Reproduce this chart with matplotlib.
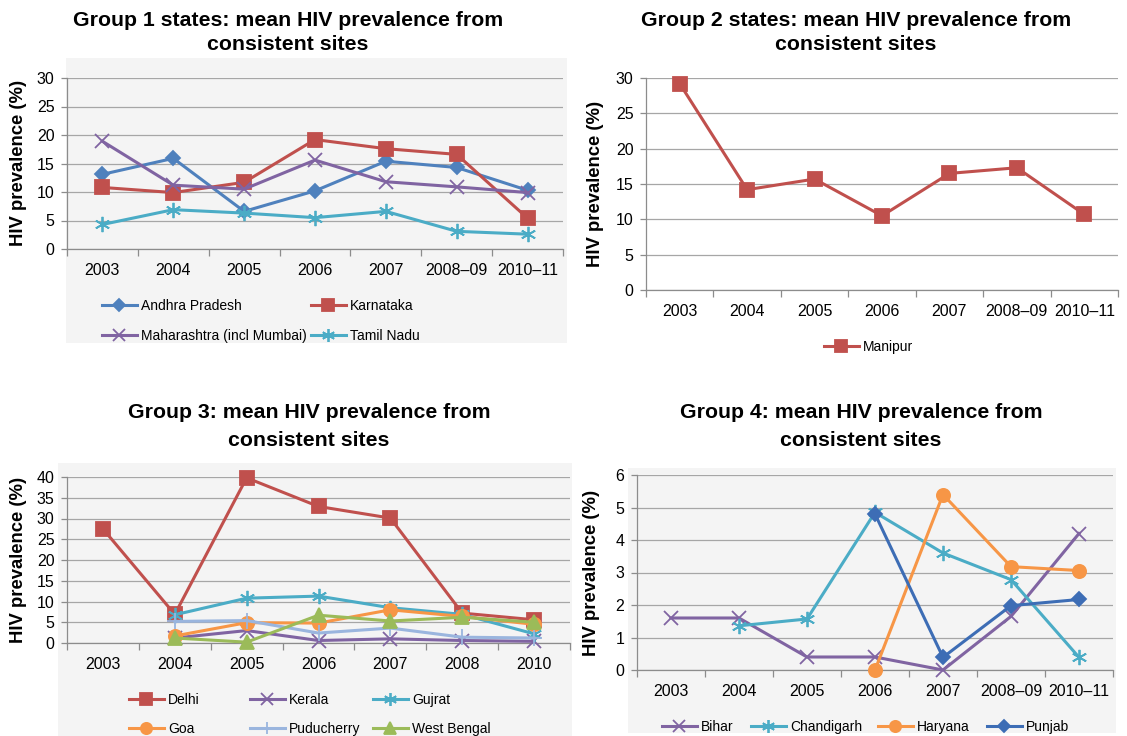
import numpy as np
import matplotlib
matplotlib.use("Agg")
import matplotlib.pyplot as plt
from matplotlib.patches import Rectangle

W, H = 1127, 736
nan = np.nan

years_a = ["2003", "2004", "2005", "2006", "2007", "2008–09", "2010–11"]
years_b = ["2003", "2004", "2005", "2006", "2007", "2008", "2010"]

# Group 1
andhra = [13.1, 15.9, 6.6, 10.2, 15.4, 14.3, 10.3]
karnataka = [10.8, 9.9, 11.7, 19.2, 17.6, 16.6, 5.4]
maharashtra = [18.9, 11.2, 10.5, 15.6, 11.8, 10.9, 9.9]
tamil_nadu = [4.3, 6.9, 6.3, 5.5, 6.6, 3.1, 2.6]

# Group 2
manipur = [29.2, 14.2, 15.7, 10.5, 16.5, 17.3, 10.7]

# Group 3
delhi = [27.5, 6.9, 39.8, 32.9, 30.1, 7.2, 5.6]
kerala = [nan, 1.2, 3.0, 0.6, 1.0, 0.6, 0.4]
gujrat = [nan, 6.8, 10.8, 11.3, 8.5, 6.9, 2.2]
goa = [nan, 1.7, 4.9, 4.8, 8.0, 6.4, 4.5]
puducherry = [nan, 5.2, 5.4, 2.4, 3.6, 1.4, 1.2]
west_bengal = [nan, 1.2, 0.2, 6.7, 5.3, 6.2, 5.0]

# Group 4
bihar = [1.6, 1.6, 0.4, 0.4, 0.0, 1.65, 4.2]
chandigarh = [nan, 1.36, 1.57, 4.85, 3.6, 2.78, 0.39]
haryana = [nan, nan, nan, 0.0, 5.4, 3.18, 3.06]
punjab = [nan, nan, nan, 4.8, 0.39, 1.98, 2.17]

BLUE = "#4F81BD"
RED = "#C0504D"
PURPLE = "#8064A2"
TEAL = "#4BACC6"
ORANGE = "#F79646"
GREEN = "#9BBB59"
LIGHTBLUE = "#9AB5DE"
DARKBLUE = "#3D6DB5"
BG = "#F4F4F4"
GRID = "#A6A6A6"
AXIS = "#8C8C8C"

plt.rcParams["font.family"] = ["Liberation Sans", "DejaVu Sans"]

fig = plt.figure(figsize=(W / 100, H / 100), dpi=100)


def box(left, top, right, bottom):
    return [left / W, 1 - bottom / H, (right - left) / W, (bottom - top) / H]


def gray_back(left, top, right, bottom):
    x, y, w, h = box(left, top, right, bottom)
    fig.add_artist(Rectangle((x, y), w, h, transform=fig.transFigure,
                             facecolor=BG, edgecolor="none", zorder=-5))


def setup(ax, cats, ymax, step, bg):
    ax.set_facecolor(bg)
    n = len(cats)
    ax.set_xlim(-0.5, n - 0.5)
    ax.set_ylim(0, ymax)
    ax.set_yticks(np.arange(0, ymax + step, step))
    ax.set_xticks(np.arange(n))
    ax.set_xticklabels(cats)
    ax.set_xticks(np.arange(-0.5, n, 1.0), minor=True)
    ax.tick_params(axis="x", which="major", length=0, pad=10, labelsize=11.5)
    ax.tick_params(axis="x", which="minor", length=5, color=AXIS, width=0.9)
    ax.tick_params(axis="y", length=4, color=AXIS, width=0.9, pad=5, labelsize=11.5)
    ax.grid(axis="y", color=GRID, lw=0.9)
    ax.set_axisbelow(True)
    for s in ["top", "right"]:
        ax.spines[s].set_visible(False)
    for s in ["left", "bottom"]:
        ax.spines[s].set_color(AXIS)
        ax.spines[s].set_linewidth(0.9)


def serie(ax, values, color, marker, ms, mew=1.3):
    x = np.arange(len(values))
    line, = ax.plot(x, values, color=color, lw=2.2, marker=marker, ms=ms,
                    mfc=color, mec=color, mew=mew, clip_on=False, zorder=3)
    return line


def titulo(cx, y1, y2, l1, l2):
    fig.text(cx / W, 1 - y1 / H, l1, ha="center", va="center",
             fontsize=15.3, fontweight="bold")
    fig.text(cx / W, 1 - y2 / H, l2, ha="center", va="center",
             fontsize=15.3, fontweight="bold")


def ylabel(x, yc):
    fig.text(x / W, 1 - yc / H, "HIV prevalence (%)", rotation=90,
             ha="center", va="center", fontsize=13.3, fontweight="bold")


def entrada(line, label, x, y, size=10):
    fig.legend([line], [label], loc="center left",
               bbox_to_anchor=(x / W, 1 - y / H), frameon=False,
               borderpad=0, borderaxespad=0, handlelength=2.5,
               handletextpad=0.3, fontsize=size, markerscale=0.85)


# ---------------- Group 1
gray_back(66, 58, 567, 343)
ax1 = fig.add_axes(box(67, 78, 563, 249))
setup(ax1, years_a, 30, 5, BG)
l_an = serie(ax1, andhra, BLUE, "D", 7.5)
l_ka = serie(ax1, karnataka, RED, "s", 9.5)
l_ma = serie(ax1, maharashtra, PURPLE, "x", 10)
l_tn = serie(ax1, tamil_nadu, TEAL, (6, 2, 0), 11)
titulo(288, 20, 45, "Group 1 states: mean HIV prevalence from", "consistent sites")
ylabel(19, 163)
entrada(l_an, "Andhra Pradesh", 102, 306)
entrada(l_ma, "Maharashtra (incl Mumbai)", 102, 336)
entrada(l_ka, "Karnataka", 311, 306)
entrada(l_tn, "Tamil Nadu", 311, 336)

# ---------------- Group 2
ax2 = fig.add_axes(box(646, 78, 1118, 290))
setup(ax2, years_a, 30, 5, "white")
l_mp = serie(ax2, manipur, RED, "s", 9.5)
titulo(856, 20, 45, "Group 2 states: mean HIV prevalence from", "consistent sites")
ylabel(595, 184)
entrada(l_mp, "Manipur", 824, 347)

# ---------------- Group 3
gray_back(58, 463, 572, 736)
ax3 = fig.add_axes(box(67, 477, 570, 643))
setup(ax3, years_b, 40, 5, BG)
l_de = serie(ax3, delhi, RED, "s", 9.5)
l_ke = serie(ax3, kerala, PURPLE, "x", 10)
l_gu = serie(ax3, gujrat, TEAL, (6, 2, 0), 11)
l_go = serie(ax3, goa, ORANGE, "o", 9.5)
l_pu = serie(ax3, puducherry, LIGHTBLUE, "+", 11)
l_wb = serie(ax3, west_bengal, GREEN, "^", 9.5)
titulo(309, 413, 440, "Group 3: mean HIV prevalence from", "consistent sites")
ylabel(19, 560)
entrada(l_de, "Delhi", 129, 700)
entrada(l_ke, "Kerala", 250, 700)
entrada(l_gu, "Gujrat", 373, 700)
entrada(l_go, "Goa", 129, 729)
entrada(l_pu, "Puducherry", 250, 729)
entrada(l_wb, "West Bengal", 373, 729)

# ---------------- Group 4
gray_back(628, 468, 1116, 733)
ax4 = fig.add_axes(box(637, 475, 1113, 670))
setup(ax4, years_a, 6, 1, BG)
l_bi = serie(ax4, bihar, PURPLE, "x", 10)
l_ch = serie(ax4, chandigarh, TEAL, (6, 2, 0), 11)
l_ha = serie(ax4, haryana, ORANGE, "o", 9.5)
l_pj = serie(ax4, punjab, DARKBLUE, "D", 7.5)
titulo(861, 413, 440, "Group 4: mean HIV prevalence from", "consistent sites")
ylabel(591, 573)
entrada(l_bi, "Bihar", 662, 727)
entrada(l_ch, "Chandigarh", 751, 727)
entrada(l_ha, "Haryana", 878, 727)
entrada(l_pj, "Punjab", 987, 727)

fig.savefig("out.png", dpi=100)
